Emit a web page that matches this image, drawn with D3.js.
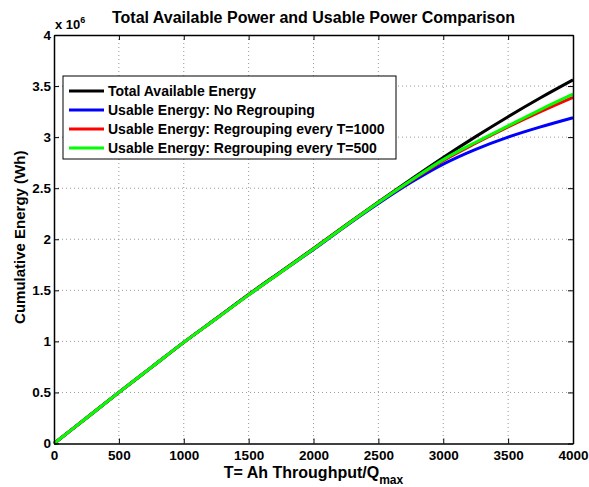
<!DOCTYPE html>
<html>
<head>
<meta charset="utf-8">
<script src="https://cdn.jsdelivr.net/npm/d3@7"></script>
<style>
  body { margin: 0; background: #fff; }
  svg { font-family: "Liberation Sans", Arial, sans-serif; font-weight: bold; }
</style>
</head>
<body>
<div id="chart"></div>
<script>
// throughput values (T = Ah throughput / Qmax)
const throughput = [0, 250, 500, 750, 1000, 1250, 1500, 1750, 2000, 2250, 2500, 2750, 3000, 3250, 3500, 3750, 4000];

// cumulative energy in units of 1e6 Wh
const totalEnergy = [0, 0.25, 0.50, 0.745, 0.99, 1.225, 1.46, 1.685, 1.91, 2.14, 2.365, 2.585, 2.80, 3.005, 3.20, 3.385, 3.56];
const noRegroup   = [0, 0.25, 0.50, 0.745, 0.99, 1.222, 1.455, 1.68, 1.90, 2.13, 2.35, 2.555, 2.735, 2.88, 3.00, 3.10, 3.19];
const regroup1000 = [0, 0.25, 0.50, 0.745, 0.99, 1.222, 1.455, 1.68, 1.905, 2.135, 2.36, 2.57, 2.77, 2.94, 3.10, 3.25, 3.39];
const regroup500  = [0, 0.25, 0.50, 0.745, 0.99, 1.222, 1.455, 1.68, 1.905, 2.135, 2.36, 2.575, 2.78, 2.95, 3.11, 3.27, 3.42];

const seriesNames = [
    'Total Available Energy',
    'Usable Energy: No Regrouping',
    'Usable Energy: Regrouping every T=1000',
    'Usable Energy: Regrouping every T=500'
];
const seriesColors = ['#000000', '#0000ff', '#ff0000', '#00ff00'];

const xTicks = [0, 500, 1000, 1500, 2000, 2500, 3000, 3500, 4000];
const yTicks = [0, 0.5, 1, 1.5, 2, 2.5, 3, 3.5, 4];

const width = 589, height = 487;
const margin = {top: 35, right: 16, bottom: 43.5, left: 54};
const innerW = width - margin.left - margin.right;
const innerH = height - margin.top - margin.bottom;

const svg = d3.select('#chart').append('svg')
    .attr('width', width)
    .attr('height', height);

const g = svg.append('g')
    .attr('transform', `translate(${margin.left},${margin.top})`);

const x = d3.scaleLinear().domain([0, 4000]).range([0, innerW]);
const y = d3.scaleLinear().domain([0, 4]).range([innerH, 0]);

// dotted grid
g.append('g')
    .selectAll('line')
    .data(xTicks.slice(1, -1))
    .enter().append('line')
    .attr('x1', d => x(d)).attr('x2', d => x(d))
    .attr('y1', 0).attr('y2', innerH)
    .attr('stroke', '#999').attr('stroke-width', 1)
    .attr('stroke-dasharray', '1,3');
g.append('g')
    .selectAll('line')
    .data(yTicks.slice(1, -1))
    .enter().append('line')
    .attr('y1', d => y(d)).attr('y2', d => y(d))
    .attr('x1', 0).attr('x2', innerW)
    .attr('stroke', '#999').attr('stroke-width', 1)
    .attr('stroke-dasharray', '1,3');

// series lines
const allSeries = [totalEnergy, noRegroup, regroup1000, regroup500];
const line = d3.line()
    .x((d, i) => x(throughput[i]))
    .y(d => y(d))
    .curve(d3.curveCatmullRom);

allSeries.forEach((s, i) => {
    g.append('path')
        .datum(s)
        .attr('fill', 'none')
        .attr('stroke', seriesColors[i])
        .attr('stroke-width', 3)
        .attr('d', line);
});

// axes, ticks point inward like matlab
const axisStyle = sel => {
    sel.select('.domain').attr('stroke', '#000').attr('stroke-width', 1.5);
    sel.selectAll('.tick line').attr('stroke', '#000').attr('stroke-width', 1);
    sel.selectAll('text').attr('fill', '#000').style('font-size', '13.5px').style('font-weight', 'bold');
};

g.append('g')
    .attr('transform', `translate(0,${innerH})`)
    .call(d3.axisBottom(x).tickValues(xTicks).tickFormat(d3.format('d')).tickSizeInner(-5).tickSizeOuter(0).tickPadding(7))
    .call(axisStyle);
g.append('g')
    .call(d3.axisLeft(y).tickValues(yTicks).tickFormat(d3.format('')).tickSizeInner(-5).tickSizeOuter(0).tickPadding(3))
    .call(axisStyle);
g.append('g')
    .call(d3.axisTop(x).tickValues(xTicks).tickSizeInner(-5).tickSizeOuter(0).tickFormat(''))
    .call(axisStyle);
g.append('g')
    .attr('transform', `translate(${innerW},0)`)
    .call(d3.axisRight(y).tickValues(yTicks).tickSizeInner(-5).tickSizeOuter(0).tickFormat(''))
    .call(axisStyle);

// exponent label
const expo = svg.append('text')
    .attr('x', margin.left + 1)
    .attr('y', 29)
    .style('font-size', '13px');
expo.append('tspan').text('x 10');
expo.append('tspan').attr('dy', -6).style('font-size', '9px').text('6');

// title
svg.append('text')
    .attr('x', margin.left + innerW / 2)
    .attr('y', 23)
    .attr('text-anchor', 'middle')
    .style('font-size', '16px')
    .text('Total Available Power and Usable Power Comparison');

// axis labels
const xl = svg.append('text')
    .attr('x', margin.left + innerW / 2)
    .attr('y', 478)
    .attr('text-anchor', 'middle')
    .style('font-size', '16px');
xl.append('tspan').text('T= Ah Throughput/Q');
xl.append('tspan').attr('dy', 6).style('font-size', '12px').text('max');

svg.append('text')
    .attr('transform', `translate(25,${margin.top + innerH / 2 - 2}) rotate(-90)`)
    .attr('text-anchor', 'middle')
    .style('font-size', '15px')
    .text('Cumulative Energy (Wh)');

// legend
const legend = svg.append('g').attr('transform', 'translate(63,76)');
legend.append('rect')
    .attr('width', 333).attr('height', 83)
    .attr('fill', '#fff').attr('stroke', '#000').attr('stroke-width', 1);

seriesNames.forEach((name, i) => {
    const row = legend.append('g').attr('transform', `translate(0,${15 + i * 19})`);
    row.append('line')
        .attr('x1', 6).attr('x2', 41)
        .attr('stroke', seriesColors[i]).attr('stroke-width', 3);
    row.append('text')
        .attr('x', 45).attr('dy', '0.35em')
        .style('font-size', '14px')
        .text(name);
});
</script>
</body>
</html>
